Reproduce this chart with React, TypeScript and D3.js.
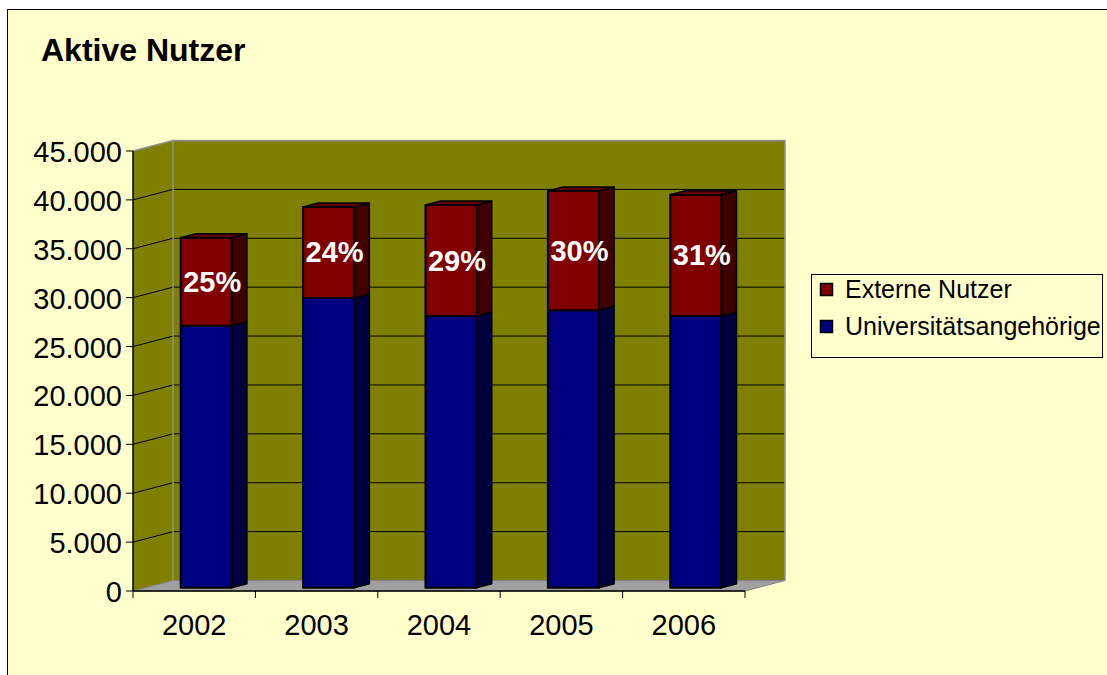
import { useEffect, useRef } from 'react';
import * as d3 from 'd3';

// chart data
const years = ['2002', '2003', '2004', '2005', '2006'];
const universitaet = [26800, 29650, 27800, 28400, 27800];
const externe = [9000, 9300, 11350, 12200, 12400];
const percentLabels = ['25%', '24%', '29%', '30%', '31%'];
const yTicks = [0, 5000, 10000, 15000, 20000, 25000, 30000, 35000, 40000, 45000];
const seriesNames = ['Externe Nutzer', 'Universitätsangehörige'];

const W = 1107;
const H = 675;
const FONT = '"Liberation Sans", Arial, Helvetica, sans-serif';

export default function App() {
  const ref = useRef<SVGSVGElement | null>(null);

  useEffect(() => {
    if (!ref.current) return;
    const svg = d3.select(ref.current);
    svg.selectAll('*').remove();

    const left = 133, right = 745, bottom = 591, top = 151;
    const dX = 40, dY = -10.5; // depth of the 3d box
    const t0 = 0.3, t1 = 0.68;  // bar depth inside the box

    const y = d3.scaleLinear().domain([0, 45000]).range([bottom, top]);
    const xCat = d3.scaleBand<string>().domain(years).range([left, right]);
    const x = d3.scaleBand<string>().domain(years).range([left, right])
      .paddingInner(0.583).paddingOuter(0.2915);

    const P = (px: number, py: number, t: number) => [px + dX * t, py + dY * t];
    const poly = (pts: number[][]) => pts.map(p => p.join(',')).join(' ');

    const de = d3.formatLocale({ decimal: ',', thousands: '.', grouping: [3], currency: ['', '€'] });
    const fmt = de.format(',d');

    // background + frame
    svg.append('rect').attr('width', W).attr('height', H).attr('fill', '#ffffff');
    svg.append('rect').attr('x', 7.5).attr('y', 9.5).attr('width', W + 20).attr('height', H + 20)
      .attr('fill', '#ffffcc').attr('stroke', '#000').attr('stroke-width', 1);

    svg.append('text').attr('x', 41).attr('y', 61)
      .style('font-family', FONT).style('font-size', '32px').style('font-weight', 'bold')
      .text('Aktive Nutzer');

    // walls
    const bw = [P(left, y(45000), 1), P(right, y(45000), 1), P(right, y(0), 1), P(left, y(0), 1)];
    svg.append('polygon').attr('points', poly(bw)).attr('fill', '#808000');
    const sw = [P(left, y(45000), 0), P(left, y(45000), 1), P(left, y(0), 1), P(left, y(0), 0)];
    svg.append('polygon').attr('points', poly(sw)).attr('fill', '#808000');
    const floor = [P(left, y(0), 0), P(right, y(0), 0), P(right, y(0), 1), P(left, y(0), 1)];
    svg.append('polygon').attr('points', poly(floor)).attr('fill', '#a0a0a0')
      .attr('stroke', '#808080').attr('stroke-width', 1);

    // gridlines
    yTicks.filter(v => v > 0 && v < 45000).forEach(v => {
      const a = P(left, y(v), 0), b = P(left, y(v), 1), c = P(right, y(v), 1);
      svg.append('polyline').attr('points', poly([a, b, c]))
        .attr('fill', 'none').attr('stroke', '#000').attr('stroke-width', 1);
    });
    // wall edges
    svg.append('polyline')
      .attr('points', poly([P(left, y(45000), 0), P(left, y(45000), 1), P(right, y(45000), 1), P(right, y(0), 1)]))
      .attr('fill', 'none').attr('stroke', '#909090').attr('stroke-width', 1.5);
    svg.append('line')
      .attr('x1', P(left, 0, 1)[0]).attr('x2', P(left, 0, 1)[0])
      .attr('y1', P(0, y(45000), 1)[1]).attr('y2', P(0, y(0), 1)[1])
      .attr('stroke', '#909090').attr('stroke-width', 1.5);

    // bars
    const rows = years.map((yr, i) => ({ year: yr, uni: universitaet[i], ext: externe[i] }));
    const stack = d3.stack<any>().keys(['uni', 'ext'])(rows);
    const fills: Record<string, string[]> = {
      uni: ['#000080', '#000040', '#000060'],
      ext: ['#800000', '#400000', '#600000'],
    };

    rows.forEach((r, i) => {
      const xl = x(r.year)!, xr = xl + x.bandwidth();
      stack.forEach(layer => {
        const [v0, v1] = layer[i];
        const key = layer.key;
        const front = [P(xl, y(v1), t0), P(xr, y(v1), t0), P(xr, y(v0), t0), P(xl, y(v0), t0)];
        const side = [P(xr, y(v1), t0), P(xr, y(v1), t1), P(xr, y(v0), t1), P(xr, y(v0), t0)];
        svg.append('polygon').attr('points', poly(side)).attr('fill', fills[key][1])
          .attr('stroke', '#000').attr('stroke-width', 1.5).attr('stroke-linejoin', 'round');
        svg.append('polygon').attr('points', poly(front)).attr('fill', fills[key][0])
          .attr('stroke', '#000').attr('stroke-width', 2).attr('stroke-linejoin', 'round');
        if (key === 'ext') {
          const topf = [P(xl, y(v1), t0), P(xr, y(v1), t0), P(xr, y(v1), t1), P(xl, y(v1), t1)];
          svg.append('polygon').attr('points', poly(topf)).attr('fill', fills[key][2])
            .attr('stroke', '#000').attr('stroke-width', 1.5).attr('stroke-linejoin', 'round');
          const c = P((xl + xr) / 2, (y(v0) + y(v1)) / 2, t0);
          svg.append('text').attr('x', c[0] + 6).attr('y', c[1] + 10)
            .attr('text-anchor', 'middle').attr('fill', '#fff')
            .style('font-family', FONT).style('font-size', '29px').style('font-weight', 'bold')
            .text(percentLabels[i]);
        }
      });
    });

    // axes
    svg.append('line').attr('x1', left).attr('x2', left).attr('y1', y(45000)).attr('y2', y(0))
      .attr('stroke', '#000').attr('stroke-width', 1.5);
    svg.append('line').attr('x1', left).attr('x2', right).attr('y1', y(0)).attr('y2', y(0))
      .attr('stroke', '#000').attr('stroke-width', 1.5);

    yTicks.forEach(v => {
      svg.append('line').attr('x1', left - 7).attr('x2', left).attr('y1', y(v)).attr('y2', y(v))
        .attr('stroke', '#000').attr('stroke-width', 1);
      svg.append('text').attr('x', 122).attr('y', y(v) + 11).attr('text-anchor', 'end')
        .style('font-family', FONT).style('font-size', '29px').text(fmt(v));
    });

    [...years.map(d => xCat(d)!), right].forEach(px => {
      svg.append('line').attr('x1', px).attr('x2', px).attr('y1', y(0)).attr('y2', y(0) + 7)
        .attr('stroke', '#000').attr('stroke-width', 1);
    });
    years.forEach(d => {
      svg.append('text').attr('x', xCat(d)! + xCat.bandwidth() / 2).attr('y', 635)
        .attr('text-anchor', 'middle')
        .style('font-family', FONT).style('font-size', '29px').text(d);
    });

    // legend
    const lg = svg.append('g');
    lg.append('rect').attr('x', 811.5).attr('y', 274.5).attr('width', 291).attr('height', 83)
      .attr('fill', '#ffffcc').attr('stroke', '#000').attr('stroke-width', 1);
    const legendColors = ['#800000', '#000080'];
    seriesNames.forEach((name, i) => {
      const ly = 283 + i * 37;
      lg.append('rect').attr('x', 820.5).attr('y', ly + 0.5).attr('width', 12).attr('height', 12)
        .attr('fill', legendColors[i]).attr('stroke', '#000').attr('stroke-width', 1.5);
      lg.append('text').attr('x', 845).attr('y', ly + 15)
        .style('font-family', FONT).style('font-size', '25px').text(name);
    });
  }, []);

  return (
    <svg ref={ref} width={W} height={H}
      style={{ position: 'absolute', left: 0, top: 0, display: 'block' }} />
  );
}
